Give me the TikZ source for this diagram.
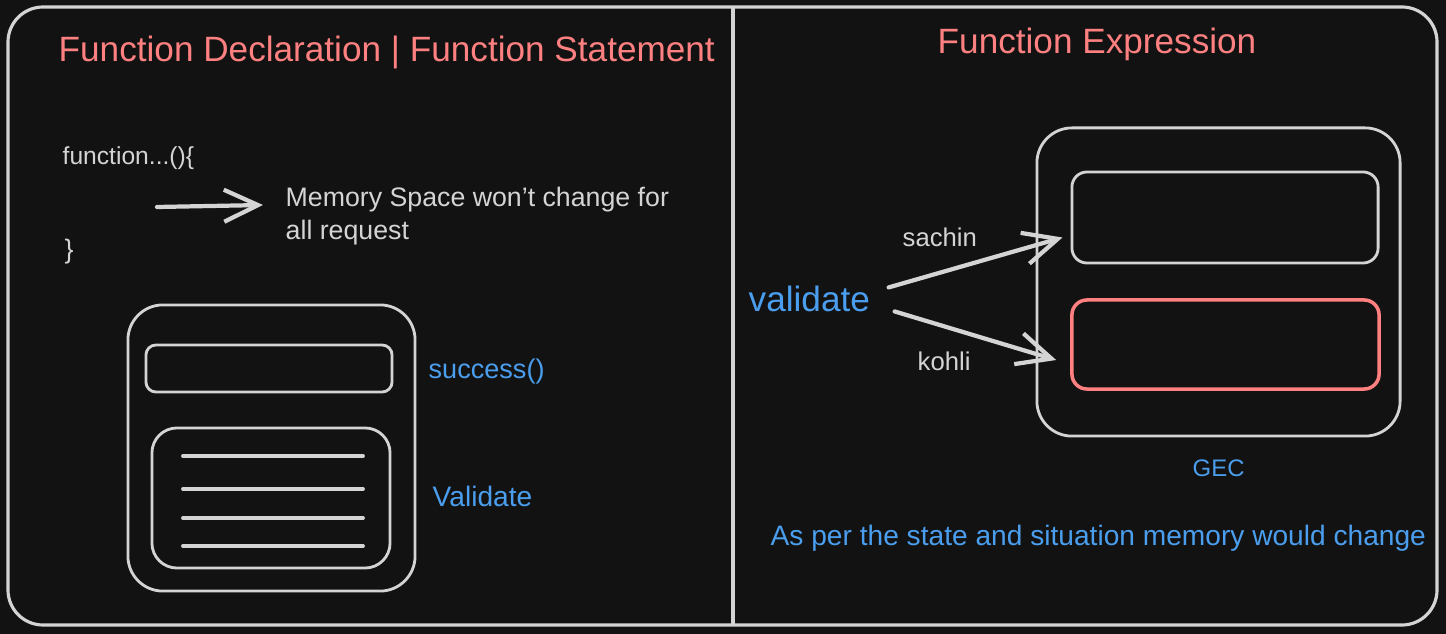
\documentclass[tikz,border=0pt]{standalone}
\usepackage{fontspec}
\setmainfont{Liberation Sans}
\usetikzlibrary{arrows.meta}

\definecolor{bgdark}{HTML}{121212}
\definecolor{chalk}{HTML}{D4D4D4}
\definecolor{salmon}{HTML}{FF8080}
\definecolor{skyblue}{HTML}{4A9EED}

\begin{document}
\begin{tikzpicture}[x=0.01cm, y=-0.01cm,
    frame/.style={draw=chalk, line width=0.9pt},
    membox/.style={draw=chalk, line width=0.8pt, rounded corners=#1, inner sep=0pt},
    membox/.default=0.15cm,
    codeline/.style={draw=chalk, line width=1.1pt, line cap=round},
    arr/.style={draw=chalk, line width=1.2pt, line cap=round,
      -{Straight Barb[length=3.4mm, width=3.2mm]}},
    title/.style={text=salmon, font=\fontsize{10}{12}\selectfont, inner sep=0pt, anchor=base west},
    note/.style={text=chalk, font=\fontsize{7.6}{9.4}\selectfont, inner sep=0pt, anchor=base west},
    label/.style={text=skyblue, font=\fontsize{7.7}{9.4}\selectfont, inner sep=0pt, anchor=base west}]

  \fill[bgdark] (0,0) rectangle (1446,634);
  \draw[frame, rounded corners=0.35cm] (8,7) rectangle (1437,625);
  \draw[frame] (733,7) -- (733,625);

  % declaration side
  \node[title] (decltitle) at (58,62) {Function Declaration | Function Statement};
  \node[note, font=\fontsize{7}{9}\selectfont] (fnopen) at (62,165) {function...()\{};
  \node[note] (fnclose) at (64,259) {\}};
  \node[note, align=left, anchor=west] (memspace) at (285,216) {Memory Space won't change for\\all request};
  \coordinate (arrtail) at (157,207);
  \coordinate (arrhead) at (263,205);
  \draw[arr] (arrtail) -- (arrhead);

  \node[membox=0.35cm, minimum width=2.87cm, minimum height=2.86cm] (declmem) at (271.5,448) {};
  \node[membox=0.1cm, minimum width=2.46cm, minimum height=0.47cm] (succbox) at (269,368.5) {};
  \node[membox=0.25cm, minimum width=2.38cm, minimum height=1.4cm] (valbox) at (271,498) {};
  \foreach \y in {456,489,518,546} {
    \draw[codeline] (183,\y) -- (363,\y);
  }
  \node[label] (succname) at (428,378) {success()};
  \node[label, font=\fontsize{8}{10}\selectfont] (valname) at (432,506) {Validate};

  % expression side
  \node[title] (exprtitle) at (937,54) {Function Expression};
  \node[label, font=\fontsize{10}{12}\selectfont] (validate) at (748,312) {validate};
  \node[membox=0.35cm, minimum width=3.63cm, minimum height=3.08cm] (gec) at (1218.5,282) {};
  \node[membox, minimum width=3.06cm, minimum height=0.91cm] (sachinbox) at (1225,217.5) {};
  \node[membox, draw=salmon, line width=1pt, minimum width=3.07cm, minimum height=0.89cm] (kohlibox) at (1225.5,344.5) {};
  \node[note, font=\fontsize{7.3}{9}\selectfont] (sachin) at (902,247) {sachin};
  \node[note, font=\fontsize{7.3}{9}\selectfont] (kohli) at (917,370) {kohli};
  \draw[arr] ([xshift=0.18cm,yshift=0.12cm]validate.east) -- ([xshift=-0.08cm,yshift=-0.2cm]sachinbox.west);
  \draw[arr] ([xshift=0.24cm,yshift=-0.12cm]validate.east) -- ([xshift=-0.14cm,yshift=-0.155cm]kohlibox.west);

  \node[label, font=\fontsize{6.8}{8}\selectfont] (gecname) at (1192,476) {GEC};
  \node[label, font=\fontsize{8}{10}\selectfont] (remark) at (770,545) {As per the state and situation memory would change};
\end{tikzpicture}
\end{document}
